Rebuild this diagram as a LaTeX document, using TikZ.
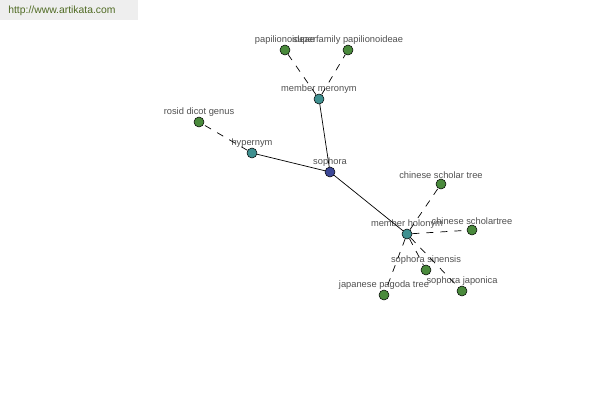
\documentclass[tikz,border=0pt]{standalone}
\usepackage{fontspec}
\setmainfont{Liberation Sans}
\usetikzlibrary{positioning}
\definecolor{leafgreen}{HTML}{4A8A3C}
\definecolor{relteal}{HTML}{3F9090}
\definecolor{rootblue}{HTML}{3C4796}
\definecolor{labelgray}{HTML}{505050}
\definecolor{urlgreen}{HTML}{4F6A22}
\definecolor{urlback}{HTML}{EEEEEE}

\begin{document}
\begin{tikzpicture}[x=0.02cm, y=-0.02cm]
    % Setup the style for the words
        \tikzset{word style/.style={circle, draw=black, line width=0.3pt,
                                    inner sep=0pt, minimum size=0.2cm,
                                    fill=leafgreen,
                                    label={[text=labelgray, inner sep=0pt,
                                            font=\fontsize{5.3}{6}\selectfont]above:#1}},
                 relation style/.style={word style=#1, fill=relteal},
                 root style/.style={word style=#1, fill=rootblue}}
        \useasboundingbox (0, 0) rectangle (600, 400);
        % The site banner
        \fill[urlback] (0, 0) rectangle (138, 20);
        \node[text=urlgreen, font=\fontsize{5.9}{7}\selectfont, anchor=west, inner sep=0pt] (site) at (8, 11) {http://www.artikata.com};
        % Draw the words
        \node[root style=sophora] at (330, 172) (sophora) {};
        \node[relation style=hypernym] at (252, 153) (hypernym) {};
        \node[relation style=member meronym] at (319, 99) (meronym) {};
        \node[relation style=member holonym] at (407, 234) (holonym) {};
        \node[word style=rosid dicot genus] at (199, 122) (rosid) {};
        \node[word style=papilionoideae] at (285, 50) (papil) {};
        \node[word style=superfamily papilionoideae] at (348, 50) (superfam) {};
        \node[word style=chinese scholar tree] at (441, 184) (scholar1) {};
        \node[word style=chinese scholartree] at (472, 230) (scholar2) {};
        \node[word style=sophora sinensis] at (426, 270) (sinensis) {};
        \node[word style=sophora japonica] at (462, 291) (japonica) {};
        \node[word style=japanese pagoda tree] at (384, 295) (pagoda) {};
        % Connect the words
        \draw[line width=0.4pt]
            (sophora) edge (hypernym)
            (sophora) edge (meronym)
            (sophora) edge (holonym);
        \draw[line width=0.4pt, dash pattern=on 4pt off 4pt]
            (hypernym) edge (rosid)
            (meronym) edge (papil)
            (meronym) edge (superfam)
            (holonym) edge (scholar1)
            (holonym) edge (scholar2)
            (holonym) edge (sinensis)
            (holonym) edge (japonica)
            (holonym) edge (pagoda);
\end{tikzpicture}
\end{document}
